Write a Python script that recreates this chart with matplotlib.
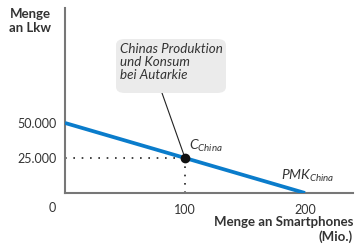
import matplotlib
matplotlib.use("Agg")
import matplotlib.pyplot as plt
from matplotlib.patches import FancyBboxPatch

# Data
pmk_x = [0, 200]
pmk_y = [50000, 0]
point_x = 100
point_y = 25000
x_ticks = [100, 200]
x_tick_labels = ["100", "200"]
y_ticks = [25000, 50000]
y_tick_labels = ["25.000", "50.000"]

plt.rcParams['font.family'] = ['Lato', 'DejaVu Sans']
plt.rcParams['mathtext.fontset'] = 'custom'
plt.rcParams['mathtext.it'] = 'Lato:italic'
plt.rcParams['mathtext.rm'] = 'Lato'
txt = '#333333'
fig = plt.figure(figsize=(3.56, 2.45), dpi=100)
ax = fig.add_axes([0.1826, 0.2122, 0.8090, 0.7548])
ax.set_xlim(0, 240)
ax.set_ylim(0, 132000)

for s in ['top', 'right']:
    ax.spines[s].set_visible(False)
for s in ['left', 'bottom']:
    ax.spines[s].set_color('#777777')
    ax.spines[s].set_linewidth(1.5)

ax.plot(pmk_x, pmk_y, color='#0a7ccb', lw=2.7, solid_capstyle='butt', zorder=3)
ax.plot([0, point_x], [point_y, point_y], color='#222222', lw=1.2, ls=(0, (1, 4)), zorder=2)
ax.plot([point_x, point_x], [0, point_y], color='#222222', lw=1.2, ls=(0, (1, 4)), zorder=2)
ax.plot([point_x], [point_y], 'o', color='#111111', ms=6, zorder=4)

ax.set_xticks(x_ticks)
ax.set_xticklabels(x_tick_labels)
ax.set_yticks(y_ticks)
ax.set_yticklabels(y_tick_labels)
ax.tick_params(axis='both', colors='#333333', labelcolor=txt, labelsize=9, length=0)
ax.tick_params(axis='y', pad=6)
ax.tick_params(axis='x', pad=8)
ax.text(-0.03, -0.05, '0', transform=ax.transAxes, ha='right', va='top', fontsize=9, color=txt)

fig.text(30/356, 1-8/245, 'Menge\nan Lkw', ha='center', va='top', fontsize=9.5, fontweight='bold', color=txt, linespacing=1.2)
fig.text(353/356, 1-216/245, 'Menge an Smartphones\n(Mio.)', ha='right', va='top', fontsize=9.5, fontweight='bold', color=txt, linespacing=1.2, multialignment='right')

ax.text(point_x + 3, point_y + 2500, r'$\mathit{C}_{\mathit{China}}$', fontsize=10, color=txt, ha='left', va='bottom')
ax.text(180, 6500, r'$\mathit{PMK}_{\mathit{China}}$', fontsize=10, color=txt, ha='left', va='bottom')

# annotation box
box = FancyBboxPatch((116/356, 1-93/245), (226-116)/356, (93-39)/245,
                     boxstyle='round,pad=0,rounding_size=0.025', transform=fig.transFigure,
                     facecolor='#ebebeb', edgecolor='none', zorder=1)
fig.patches.append(box)
fig.text(120/356, 1-43/245, 'Chinas Produktion\nund Konsum\nbei Autarkie', ha='left', va='top',
         fontsize=9.6, style='italic', color=txt, linespacing=1.12)
ax.annotate('', xy=(point_x, point_y), xytext=(162/356, 1-93/245), textcoords='figure fraction',
            arrowprops=dict(arrowstyle='-', color='#222222', lw=0.8, shrinkA=0, shrinkB=0))

fig.savefig('out.png', dpi=100)
